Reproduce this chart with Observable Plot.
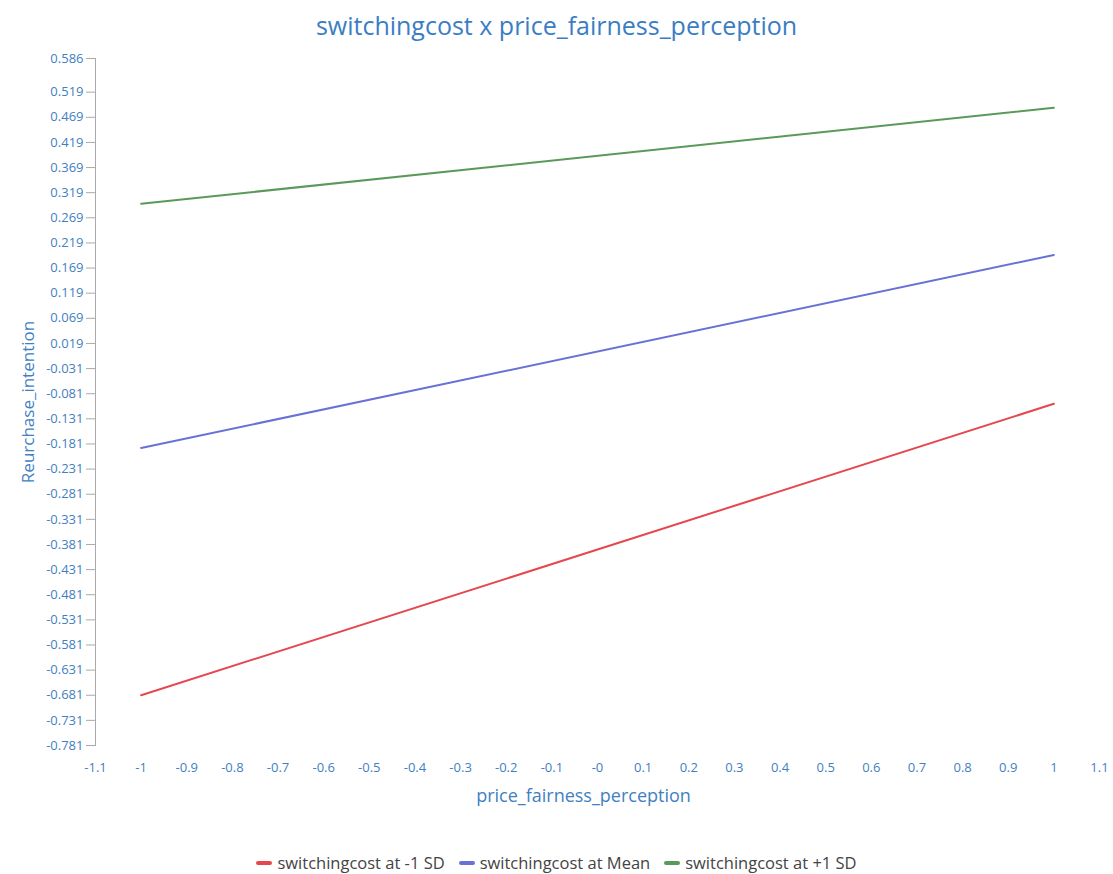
<!DOCTYPE html>
<html>
<head>
<meta charset="utf-8">
<script src="https://cdn.jsdelivr.net/npm/d3@7"></script>
<script src="https://cdn.jsdelivr.net/npm/@observablehq/plot@0.6"></script>
<style>
  body { margin: 0; background: #fff; font-family: "Open Sans", "Noto Sans", sans-serif; }
  #title { height: 45px; line-height: 50px; text-align: center; font-size: 25px; color: #3b7dc4; }
  #legend { display: flex; justify-content: center; gap: 14px; margin-top: 26px; font-size: 16.5px; color: #444; }
  #legend .item { display: flex; align-items: center; gap: 5px; }
  #legend .sw { width: 16px; height: 4px; border-radius: 2px; display: inline-block; }
</style>
</head>
<body>
<div id="title">switchingcost x price_fairness_perception</div>
<div id="chart"></div>
<div id="legend"></div>
<script>
const seriesNames = ["switchingcost at -1 SD", "switchingcost at Mean", "switchingcost at +1 SD"];
const seriesColors = ["#e6474f", "#6872d6", "#5b995b"];
const xValues = [-1, 1];
const lowSD = [-0.681, -0.101];
const meanSD = [-0.189, 0.195];
const highSD = [0.297, 0.488];
const yTicks = [0.586, 0.519, 0.469, 0.419, 0.369, 0.319, 0.269, 0.219, 0.169, 0.119, 0.069, 0.019,
  -0.031, -0.081, -0.131, -0.181, -0.231, -0.281, -0.331, -0.381, -0.431, -0.481, -0.531, -0.581,
  -0.631, -0.681, -0.731, -0.781];
const xTicks = [-1.1, -1, -0.9, -0.8, -0.7, -0.6, -0.5, -0.4, -0.3, -0.2, -0.1, 0, 0.1, 0.2, 0.3, 0.4, 0.5, 0.6, 0.7, 0.8, 0.9, 1, 1.1];
const xTickLabels = ["-1.1", "-1", "-0.9", "-0.8", "-0.7", "-0.6", "-0.5", "-0.4", "-0.3", "-0.2", "-0.1", "-0", "0.1", "0.2", "0.3", "0.4", "0.5", "0.6", "0.7", "0.8", "0.9", "1", "1.1"];

const allSeries = [lowSD, meanSD, highSD];
const data = [];
allSeries.forEach((vals, si) => vals.forEach((v, i) => data.push({series: seriesNames[si], x: xValues[i], y: v})));

const tickColor = "#3f7fc2";
const chart = Plot.plot({
  width: 1113,
  height: 780,
  marginTop: 13,
  marginBottom: 80,
  marginLeft: 95,
  marginRight: 14,
  style: {fontFamily: "'Open Sans', 'Noto Sans', sans-serif", fontSize: "13px", background: "transparent"},
  x: {domain: [-1.1, 1.1]},
  y: {domain: [-0.781, 0.586]},
  color: {domain: seriesNames, range: seriesColors},
  marks: [
    Plot.frame({anchor: "left", stroke: "#aaa"}),
    Plot.axisY({ticks: yTicks, tickFormat: d => String(d), tickSize: 9, tickPadding: 3, stroke: "#aaa", color: tickColor,
      label: null, fontSize: 13}),
    Plot.axisX({ticks: xTicks, tickFormat: (d, i) => xTickLabels[i], tickSize: 0, tickPadding: 17, color: tickColor,
      label: null, fontSize: 13}),
    Plot.text(["Reurchase_intention"], {frameAnchor: "left", dx: -67, rotate: -90, textAnchor: "middle", fill: tickColor, fontSize: 17}),
    Plot.text(["price_fairness_perception"], {frameAnchor: "bottom", dy: 56, dx: -14, fill: tickColor, fontSize: 18}),
    Plot.line(data, {x: "x", y: "y", z: "series", stroke: "series", strokeWidth: 2})
  ]
});
document.getElementById("chart").appendChild(chart);

const legend = document.getElementById("legend");
seriesNames.forEach((n, i) => {
  const it = document.createElement("div");
  it.className = "item";
  it.innerHTML = `<span class="sw" style="background:${seriesColors[i]}"></span><span>${n}</span>`;
  legend.appendChild(it);
});
</script>
</body>
</html>
